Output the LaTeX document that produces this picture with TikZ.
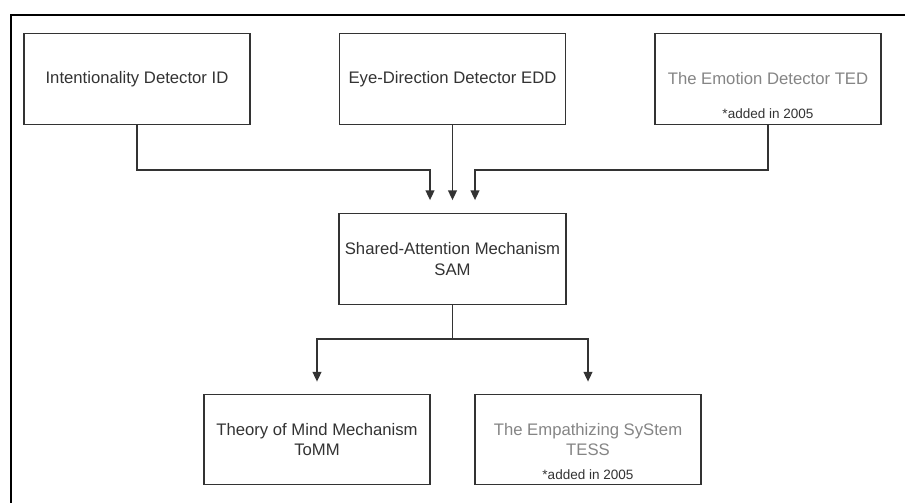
\documentclass[tikz,border=0pt]{standalone}
\usepackage{fontspec}
\setmainfont{Liberation Sans}
\usetikzlibrary{arrows.meta,positioning}
\definecolor{stroke}{HTML}{333333}
\definecolor{body}{HTML}{333333}
\definecolor{faded}{HTML}{858585}

\begin{document}
\begin{tikzpicture}[
          every node/.style={font=\fontsize{9.5}{11.9}\selectfont,text=body},
          block/.style={rectangle,draw=stroke,line width=.75pt,fill=white,
              minimum width=4.52cm,minimum height=1.81cm,align=center},
          note/.style={font=\fontsize{7.7}{9}\selectfont,text=body,inner sep=0pt},
          link/.style={draw=stroke,line width=.75pt,
              -{Triangle[length=5.5pt,width=5pt]}}]
        \useasboundingbox (0,0) rectangle (18.1,-10.04);
        \draw[stroke,line width=.8pt] (.22,-10.1) -- (.22,-.30) -- (18.2,-.30);
        \node[block] (id) at (2.74,-1.58) {Intentionality Detector ID};
        \node[block] (edd) at (9.05,-1.58) {Eye-Direction Detector EDD};
        \node[block,text=faded] (ted) at (15.36,-1.58) {The Emotion Detector TED};
        \node[note] at ([yshift=.22cm]ted.south) {*added in 2005};
        \node[block] (sam) at (9.05,-5.18) {Shared-Attention Mechanism\\SAM};
        \node[block] (tomm) at (6.34,-8.79) {Theory of Mind Mechanism\\ToMM};
        \node[block,text=faded] (tess) at (11.76,-8.79) {The Empathizing SyStem\\TESS};
        \node[note] at ([yshift=.22cm]tess.south) {*added in 2005};

        \draw[link] (id.south) -- ++(0,-.9) -| ([xshift=-.45cm,yshift=.26cm]sam.north);
        \draw[link] (edd.south) -- ([yshift=.26cm]sam.north);
        \draw[link] (ted.south) -- ++(0,-.9) -| ([xshift=.45cm,yshift=.26cm]sam.north);
        \draw[link] (sam.south) -- ++(0,-.68) -| ([yshift=.24cm]tomm.north);
        \draw[link] (sam.south) -- ++(0,-.68) -| ([yshift=.24cm]tess.north);
      \end{tikzpicture}
\end{document}
